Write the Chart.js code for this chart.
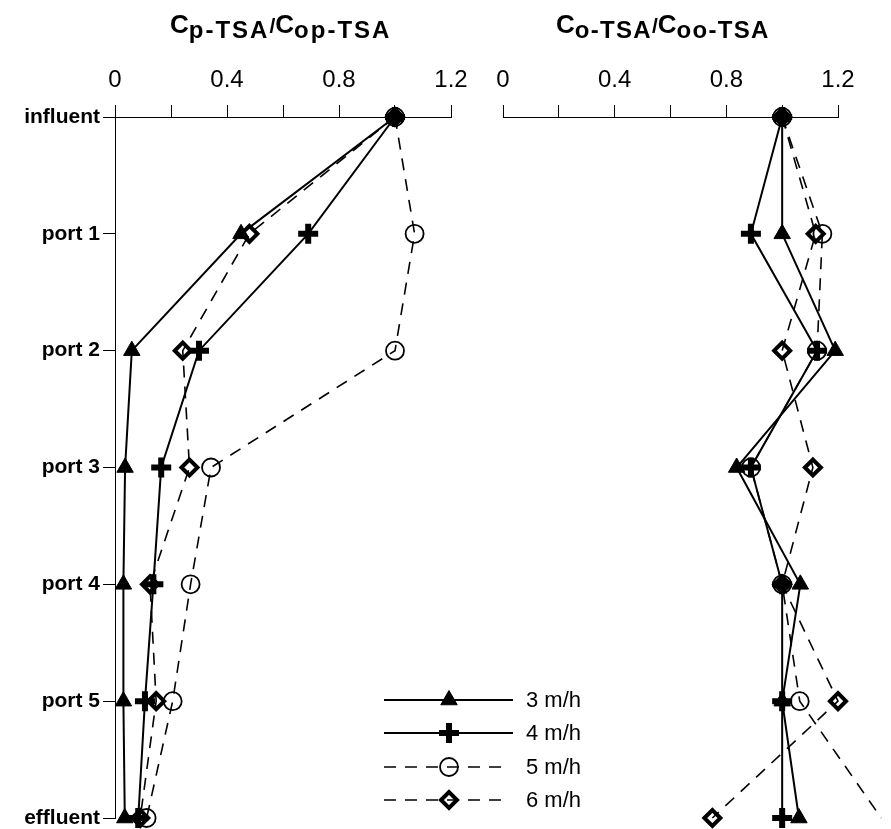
<!DOCTYPE html>
<html>
<head>
<meta charset="utf-8">
<script src="https://cdn.jsdelivr.net/npm/chart.js@4/dist/chart.umd.min.js"></script>
<style>
  body { margin: 0; background: #fff; font-family: "Liberation Sans", Arial, sans-serif; }
  #wrap { position: relative; width: 891px; height: 829px; }
  canvas { position: absolute; left: 0; top: 0; }
  .ttl { position: absolute; top: 9px; font-weight: bold; color: #000; white-space: nowrap; }
  .ttl .big { font-size: 26px; }
  .ttl .sub { font-size: 24px; position: relative; top: 5px; letter-spacing: 2px; }
  .ttl .sl { font-size: 21px; }
  #t2 .sub { letter-spacing: 1.3px; }
</style>
</head>
<body>
<div id="wrap">
  <canvas id="grafico-p" width="891" height="829"></canvas>
  <canvas id="grafico-o" width="891" height="829"></canvas>
  <div class="ttl" style="left:170px"><span class="big">C</span><span class="sub">p-TSA</span><span class="sl">/</span><span class="big">C</span><span class="sub">op-TSA</span></div>
  <div class="ttl" id="t2" style="left:556px"><span class="big">C</span><span class="sub">o-TSA</span><span class="sl">/</span><span class="big">C</span><span class="sub">oo-TSA</span></div>
</div>
<script>
// pontos de amostragem
var pontos = ["influent", "port 1", "port 2", "port 3", "port 4", "port 5", "effluent"];
var velocidades = ["3 m/h", "4 m/h", "5 m/h", "6 m/h"];
var rotulosX = ["0", "0.4", "0.8", "1.2"];

// Cp-TSA/Cop-TSA
var pTsa3 = [1.0, 0.45, 0.06, 0.036, 0.03, 0.03, 0.035];
var pTsa4 = [1.0, 0.69, 0.30, 0.165, 0.137, 0.107, 0.083];
var pTsa5 = [1.0, 1.07, 1.0, 0.343, 0.27, 0.206, 0.113];
var pTsa6 = [1.0, 0.48, 0.242, 0.266, 0.125, 0.147, 0.09];

// Co-TSA/Coo-TSA
var oTsa3 = [1.0, 1.0, 1.19, 0.837, 1.065, 1.0, 1.06];
var oTsa4 = [1.0, 0.888, 1.125, 0.888, 1.0, 1.0, 1.0];
var oTsa5 = [1.0, 1.144, 1.125, 0.888, 1.0, 1.063, 1.355];
var oTsa6 = [1.0, 1.12, 1.0, 1.11, 1.0, 1.2, 0.75];

var estilos = [
  { pointStyle: "triangle", pointRadius: 9.5, pointBorderWidth: 1, pointBackgroundColor: "#000", borderWidth: 2, borderDash: [] },
  { pointStyle: "cross", pointRadius: 10, pointBorderWidth: 6, pointBackgroundColor: "#000", borderWidth: 2, borderDash: [] },
  { pointStyle: "circle", pointRadius: 9, pointBorderWidth: 1.8, pointBackgroundColor: "rgba(0,0,0,0)", borderWidth: 1.6, borderDash: [12, 9] },
  { pointStyle: "rectRot", pointRadius: 8, pointBorderWidth: 4, pointBackgroundColor: "rgba(0,0,0,0)", borderWidth: 1.6, borderDash: [12, 9] }
];

function montaDatasets(series) {
  return series.map(function (s, i) {
    var e = estilos[i];
    return {
      label: velocidades[i],
      data: s,
      borderColor: "#000",
      pointBorderColor: "#000",
      pointBackgroundColor: e.pointBackgroundColor,
      pointStyle: e.pointStyle,
      pointRadius: e.pointRadius,
      pointBorderWidth: e.pointBorderWidth,
      borderWidth: e.borderWidth,
      borderDash: e.borderDash,
      tension: 0,
      clip: false
    };
  });
}

function eixoX() {
  return {
    type: "linear", position: "top", min: 0, max: 1.2,
    grid: { drawOnChartArea: false, tickLength: 12, color: "#000", tickColor: "#000" },
    border: { color: "#000", width: 1 },
    ticks: {
      stepSize: 0.2, color: "#000", padding: 10,
      font: { family: "'Liberation Sans', Arial", size: 24 },
      callback: function (v) {
        var k = Math.round(v * 10);
        return (k % 4 === 0) ? rotulosX[k / 4] : "";
      }
    },
    afterFit: function (s) { s.height = 117; }
  };
}

// legenda desenhada no canvas da esquerda
var legenda = {
  id: "legenda",
  afterDraw: function (chart) {
    var ctx = chart.ctx;
    var ys = [700, 733, 767, 800];
    ctx.save();
    chart.data.datasets.forEach(function (ds, i) {
      var y = ys[i];
      ctx.strokeStyle = "#000";
      ctx.lineWidth = ds.borderWidth;
      ctx.setLineDash(ds.borderDash);
      ctx.beginPath();
      ctx.moveTo(384, y);
      ctx.lineTo(ds.borderDash.length ? 508 : 513, y);
      ctx.stroke();
      ctx.setLineDash([]);
      ctx.fillStyle = ds.pointBackgroundColor;
      ctx.strokeStyle = "#000";
      ctx.lineWidth = ds.pointBorderWidth;
      Chart.helpers.drawPoint(ctx, { pointStyle: ds.pointStyle, radius: ds.pointRadius, rotation: 0, borderWidth: ds.pointBorderWidth }, 449, y);
      ctx.fillStyle = "#000";
      ctx.font = "22px 'Liberation Sans', Arial";
      ctx.textBaseline = "middle";
      ctx.fillText(ds.label, 526, y + 1);
    });
    ctx.restore();
  }
};

var graficoP = new Chart(document.getElementById("grafico-p"), {
  type: "line",
  data: { labels: pontos, datasets: montaDatasets([pTsa3, pTsa4, pTsa5, pTsa6]) },
  options: {
    responsive: false, animation: false, indexAxis: "y",
    layout: { autoPadding: false, padding: { left: 0, top: 0, right: 440, bottom: 11 } },
    plugins: { legend: { display: false }, tooltip: { enabled: false } },
    scales: {
      x: eixoX(),
      y: {
        type: "category", position: "left", offset: false,
        grid: { drawOnChartArea: false, tickLength: 12, color: "#000", tickColor: "#000" },
        border: { color: "#000", width: 1 },
        ticks: { color: "#000", padding: 3, font: { family: "'Liberation Sans', Arial", size: 21, weight: "bold" } },
        afterFit: function (s) { s.width = 115; s.paddingTop = 0; s.paddingBottom = 0; }
      }
    }
  },
  plugins: [legenda]
});

var graficoO = new Chart(document.getElementById("grafico-o"), {
  type: "line",
  data: { labels: pontos, datasets: montaDatasets([oTsa3, oTsa4, oTsa5, oTsa6]) },
  options: {
    responsive: false, animation: false, indexAxis: "y",
    layout: { autoPadding: false, padding: { left: 503, top: 0, right: 53, bottom: 11 } },
    plugins: { legend: { display: false }, tooltip: { enabled: false } },
    scales: {
      x: eixoX(),
      y: { type: "category", display: false, offset: false }
    }
  }
});
</script>
</body>
</html>
